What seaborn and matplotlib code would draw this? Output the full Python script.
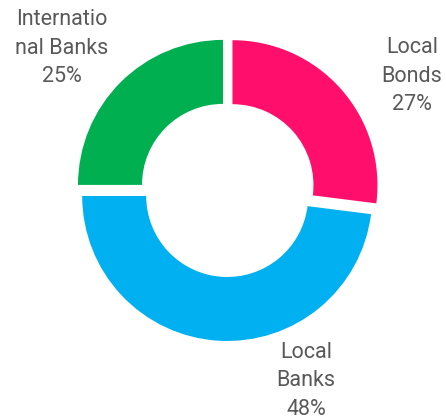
import matplotlib
matplotlib.use("Agg")
import matplotlib.pyplot as plt
import seaborn as sns

# Portfolio split
categories = ["Local Bonds", "Local Banks", "International Banks"]
shares = [27, 48, 25]
label_names = ["Local\nBonds", "Local\nBanks", "Internatio\nnal Banks"]

sns.set_theme(style="white")
plt.rcParams["font.family"] = ["Roboto", "DejaVu Sans"]

palette = sns.color_palette(["#FF0F6B", "#00B0F0", "#00B050"])

W, H = 446, 419
fig = plt.figure(figsize=(W / 100, H / 100), dpi=100)
ax = fig.add_axes([0, 0, 1, 1])

cx, cy = 227.6, H - 189.5
outer = 145
ring = 64

ax.pie(
    shares,
    colors=palette,
    startangle=90,
    counterclock=False,
    radius=outer,
    center=(cx, cy),
    explode=[6.5] * len(shares),
    wedgeprops=dict(width=ring, linewidth=0),
)

# Category labels around the ring (pixel positions, y measured from top)
label_pos = [(412, 76), (306, 381), (62, 48)]
for name, val, (px, py) in zip(label_names, shares, label_pos):
    ax.text(px, H - py, f"{name}\n{val}%", ha="center", va="center",
            multialignment="center", fontsize=15.5, color="#595959",
            linespacing=1.46)

ax.set_xlim(0, W)
ax.set_ylim(0, H)
ax.set_aspect("equal")
ax.axis("off")

fig.savefig("out.png", dpi=100, facecolor="white")
